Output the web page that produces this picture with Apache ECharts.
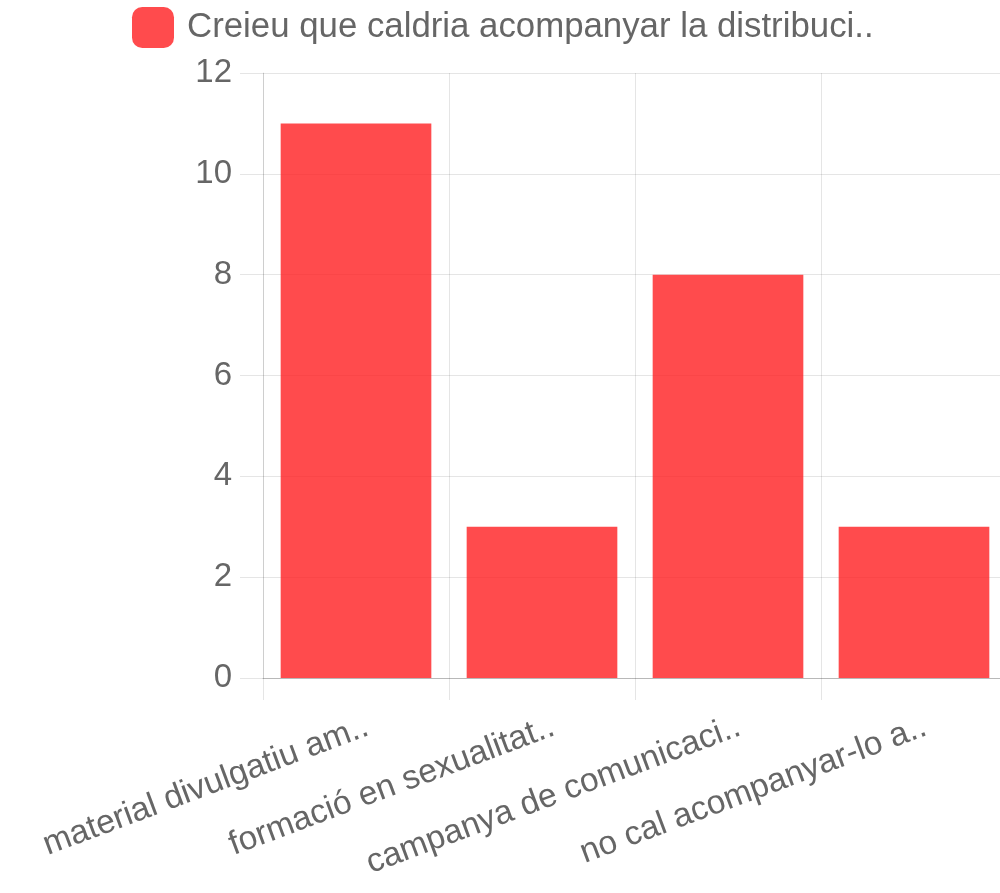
<!DOCTYPE html>
<html><head><meta charset="utf-8">
<script src="https://cdn.jsdelivr.net/npm/echarts@6/dist/echarts.min.js"></script>
<style>html,body{margin:0;padding:0;background:#fff}#c{width:1000px;height:893px}</style>
</head><body><div id="c"></div>
<script>
const categories = ["material divulgatiu am..", "formació en sexualitat..", "campanya de comunicaci..", "no cal acompanyar-lo a.."];
const values = [11, 3, 8, 3];
const seriesName = "Creieu que caldria acompanyar la distribuci..";
const yTicks = { min: 0, max: 12, interval: 2 };

const chart = echarts.init(document.getElementById('c'), null, { renderer: 'canvas' });
const font = 'Liberation Sans, Arial, Helvetica, sans-serif';
chart.setOption({
  animation: false,
  legend: {
    left: 127, top: 2,
    itemWidth: 42, itemHeight: 41, icon: 'roundRect',
    textStyle: { color: '#666', fontSize: 34.8, fontFamily: font, padding: [0, 0, 0, 8] },
    data: [seriesName]
  },
  grid: { left: 263, width: 744, top: 73, bottom: 215, containLabel: false, outerBoundsMode: 'none' },
  xAxis: {
    type: 'category', data: categories,
    axisLine: { lineStyle: { color: 'rgba(0,0,0,0.2)', width: 1 } },
    axisTick: { show: true, length: 22, lineStyle: { color: 'rgba(0,0,0,0.1)' } },
    splitLine: { show: true, lineStyle: { color: 'rgba(0,0,0,0.1)' } },
    axisLabel: { rotate: 20.5, interval: 0, color: '#666', fontSize: 33.5, fontFamily: font, margin: 52, padding: [0, -12, 0, 0] }
  },
  yAxis: {
    type: 'value', min: yTicks.min, max: yTicks.max, interval: yTicks.interval,
    axisLine: { show: true, lineStyle: { color: 'rgba(0,0,0,0.1)' } },
    axisTick: { show: true, length: 23, lineStyle: { color: 'rgba(0,0,0,0.1)' } },
    splitLine: { show: true, lineStyle: { color: 'rgba(0,0,0,0.1)' } },
    axisLabel: { color: '#666', fontSize: 33, fontFamily: font, margin: 31 }
  },
  series: [{
    name: seriesName, type: 'bar', data: values,
    barWidth: '81%',
    itemStyle: { color: 'rgba(255,30,33,0.8)' }
  }]
});
</script></body></html>
